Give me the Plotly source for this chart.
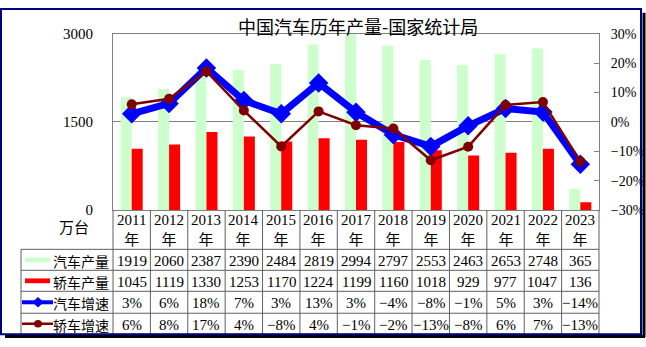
import plotly.graph_objects as go

# ---------------- data ----------------
years = ["2011", "2012", "2013", "2014", "2015", "2016", "2017",
         "2018", "2019", "2020", "2021", "2022", "2023"]
car_output = [1919, 2060, 2387, 2390, 2484, 2819, 2994, 2797, 2553, 2463, 2653, 2748, 365]
sedan_output = [1045, 1119, 1330, 1253, 1170, 1224, 1199, 1160, 1018, 929, 977, 1047, 136]
car_growth = [2.8, 6.3, 18.4, 7.3, 2.8, 13.3, 3.3, -4.3, -8.3, -1.3, 4.6, 3.4, -14.4]
sedan_growth = [6.0, 7.9, 17.2, 3.9, -8.3, 3.6, -1.1, -2.2, -13.0, -8.4, 5.8, 6.8, -13.4]
left_ticks = [0, 1500, 3000]
right_ticks = [-30, -20, -10, 0, 10, 20, 30]

series_names = ["汽车产量", "轿车产量", "汽车增速", "轿车增速"]
title_text = "中国汽车历年产量-国家统计局"
unit_text = "万台"

# ---------------- style / layout ----------------
W, H = 646, 347
PX0, PX1 = 113, 599       # plot area horizontal extent (px)
PY0, PY1 = 27, 212        # plot area vertical extent (px)
GREEN = "#CCFFCC"
RED = "#FF0000"
BLUE = "#0000FF"
DARKRED = "#800000"
GRID = "#808080"
FONT = "Liberation Serif, Noto Sans CJK SC, serif"
CJK = "Noto Sans CJK SC, sans-serif"

def px(x):
    return x / W

def py(y):
    return 1 - y / H

n = len(years)
colw = (PX1 - PX0) / n

def col_center(i):
    return PX0 + (i + 0.5) * colw

def fmt_pct(v):
    r = int(round(v))
    return ("\u2212" + str(-r) if r < 0 else str(r)) + "%"

fig = go.Figure()
fig.add_trace(go.Bar(x=years, y=car_output, name=series_names[0],
                     marker=dict(color=GREEN, line=dict(width=0)), yaxis="y"))
fig.add_trace(go.Bar(x=years, y=sedan_output, name=series_names[1],
                     marker=dict(color=RED, line=dict(width=0)), yaxis="y"))
fig.add_trace(go.Scatter(x=years, y=car_growth, name=series_names[2], mode="lines+markers",
                         line=dict(color=BLUE, width=7),
                         marker=dict(symbol="diamond", size=15, color=BLUE), yaxis="y2"))
fig.add_trace(go.Scatter(x=years, y=sedan_growth, name=series_names[3], mode="lines+markers",
                         line=dict(color=DARKRED, width=2.5),
                         marker=dict(symbol="circle", size=10, color=DARKRED), yaxis="y2"))

shapes = []
annotations = []

# title
annotations.append(dict(text=title_text, x=px(358), y=py(19), xref="paper", yref="paper",
                        showarrow=False, font=dict(family=CJK, size=18, color="black"),
                        xanchor="center", yanchor="middle"))
# unit label
annotations.append(dict(text=unit_text, x=px(74), y=py(229), xref="paper", yref="paper",
                        showarrow=False, font=dict(family=CJK, size=15, color="black"),
                        xanchor="center", yanchor="middle"))

# table geometry
row_edges = [PY1, 253, 275, 297, 320, 342]
TX0 = 21
line_style = dict(color="#606060", width=1)
for y in row_edges[1:]:
    shapes.append(dict(type="line", xref="paper", yref="paper",
                       x0=px(TX0), x1=px(PX1), y0=py(y), y1=py(y), line=line_style))
shapes.append(dict(type="line", xref="paper", yref="paper",
                   x0=px(TX0), x1=px(TX0), y0=py(253), y1=py(342), line=line_style))
for k in range(n + 1):
    xk = PX0 + k * colw
    shapes.append(dict(type="line", xref="paper", yref="paper",
                       x0=px(xk), x1=px(xk), y0=py(PY1), y1=py(342), line=line_style))

# header row: years
for i, yr in enumerate(years):
    annotations.append(dict(text=yr + "<br>年", x=px(col_center(i)), y=py(233),
                            xref="paper", yref="paper", showarrow=False,
                            font=dict(family=FONT, size=15, color="black"),
                            xanchor="center", yanchor="middle"))

row_texts = [
    [str(v) for v in car_output],
    [str(v) for v in sedan_output],
    [fmt_pct(v) for v in car_growth],
    [fmt_pct(v) for v in sedan_growth],
]
for r, texts in enumerate(row_texts):
    yc = (row_edges[r + 1] + row_edges[r + 2]) / 2
    for i, t in enumerate(texts):
        annotations.append(dict(text=t, x=px(col_center(i)), y=py(yc + 1),
                                xref="paper", yref="paper", showarrow=False,
                                font=dict(family=FONT, size=15, color="black"),
                                xanchor="center", yanchor="middle"))
    annotations.append(dict(text=series_names[r], x=px(PX0 - 2), y=py(yc + 1),
                            xref="paper", yref="paper", showarrow=False,
                            font=dict(family=CJK, size=14, color="black"),
                            xanchor="right", yanchor="middle"))
    # legend icons
    if r == 0 or r == 1:
        shapes.append(dict(type="rect", xref="paper", yref="paper",
                           x0=px(25), x1=px(50), y0=py(yc - 2.5), y1=py(yc + 2.5),
                           fillcolor=GREEN if r == 0 else RED, line=dict(width=0)))
    else:
        col = BLUE if r == 2 else DARKRED
        lw = 4 if r == 2 else 2.5
        shapes.append(dict(type="line", xref="paper", yref="paper",
                           x0=px(22), x1=px(53), y0=py(yc), y1=py(yc),
                           line=dict(color=col, width=lw)))
        if r == 2:
            d = 5
            path = "M {} {} L {} {} L {} {} L {} {} Z".format(
                px(38 - d), py(yc), px(38), py(yc - d), px(38 + d), py(yc), px(38), py(yc + d))
            shapes.append(dict(type="path", xref="paper", yref="paper", path=path,
                               fillcolor=col, line=dict(color=col, width=1)))
        else:
            rr = 4
            shapes.append(dict(type="circle", xref="paper", yref="paper",
                               x0=px(38 - rr), x1=px(38 + rr), y0=py(yc - rr), y1=py(yc + rr),
                               fillcolor=col, line=dict(color=col, width=0)))

# outer border with shadow
shapes.append(dict(type="line", xref="paper", yref="paper",
                   x0=px(644), x1=px(644), y0=py(5), y1=py(345),
                   line=dict(color="#000000", width=3)))
shapes.append(dict(type="line", xref="paper", yref="paper",
                   x0=px(5), x1=px(645), y0=py(344.5), y1=py(344.5),
                   line=dict(color="#000000", width=3)))
shapes.append(dict(type="rect", xref="paper", yref="paper",
                   x0=px(1), x1=px(641), y0=py(1), y1=py(342),
                   line=dict(color="#000080", width=2)))

fig.update_layout(
    width=W, height=H,
    margin=dict(l=0, r=0, t=0, b=0),
    paper_bgcolor="white", plot_bgcolor="white",
    showlegend=False,
    barmode="group", bargap=0.41, bargroupgap=0,
    font=dict(family=FONT, color="black"),
    xaxis=dict(domain=[px(PX0), px(PX1)], showticklabels=False, ticks="",
               showline=True, mirror=True, linecolor=GRID, linewidth=1,
               showgrid=False, zeroline=False, range=[-0.5, n - 0.5]),
    yaxis=dict(domain=[py(PY1), py(PY0)], range=[0, 3000], tickvals=left_ticks,
               showline=True, linecolor=GRID, linewidth=1,
               showgrid=True, gridcolor=GRID, gridwidth=1, zeroline=False,
               ticks="", ticklabelstandoff=16,
               tickfont=dict(family=FONT, size=15, color="black")),
    yaxis2=dict(overlaying="y", side="right", anchor="x", range=[-30, 30],
                tickvals=right_ticks, ticktext=[fmt_pct(v) for v in right_ticks],
                showline=True, linecolor=GRID, linewidth=1,
                showgrid=False, zeroline=False,
                ticks="inside", ticklen=5, tickcolor=GRID, ticklabelstandoff=8,
                tickfont=dict(family=FONT, size=14, color="black")),
    shapes=shapes,
    annotations=annotations,
)

fig.write_html("out.html")
